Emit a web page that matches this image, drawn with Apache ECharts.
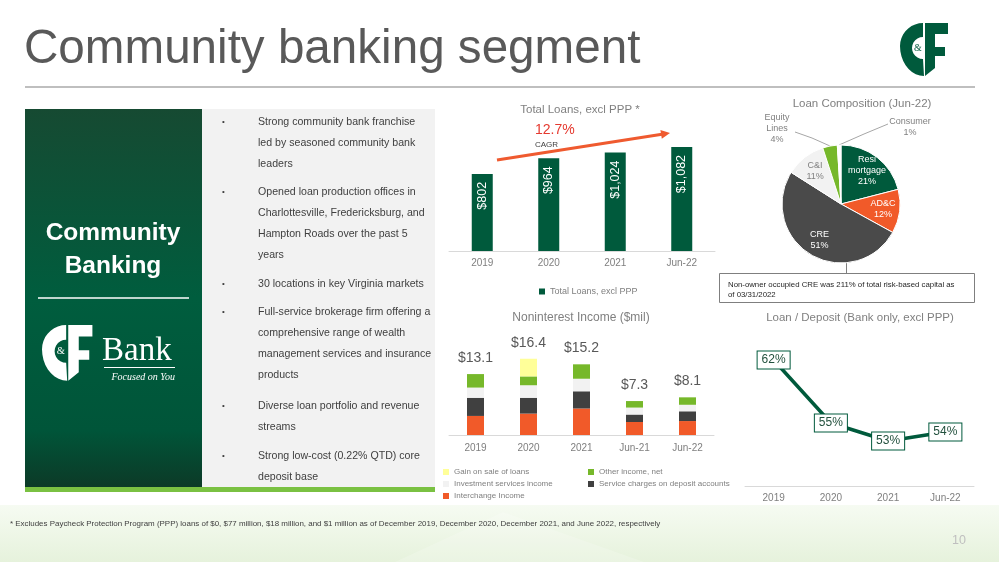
<!DOCTYPE html>
<html>
<head>
<meta charset="utf-8">
<title>Community banking segment</title>
<script src="https://cdn.jsdelivr.net/npm/echarts@6/dist/echarts.min.js"></script>
<style>
  html, body { margin: 0; padding: 0; background: #fff; }
  #main { width: 999px; height: 562px; }
</style>
</head>
<body>
<div id="main"></div>
<script>
const FONT = 'Liberation Sans'
const GREEN = '#005a3c'

// Total loans, excl PPP ($mil)
const loanPeriods = ['2019', '2020', '2021', 'Jun-22']
const totalLoans = [802, 964, 1024, 1082]

// Loan composition (Jun-22), %
const compositionNames = ['Resi\nmortgage', 'AD&C', 'CRE', 'C&I', 'Equity\nLines', 'Consumer']
const compositionShares = [21, 12, 51, 11, 4, 1]

// Noninterest income ($mil)
const incomePeriods = ['2019', '2020', '2021', 'Jun-21', 'Jun-22']
const interchangeIncome = [4.1, 4.6, 5.7, 2.8, 3.0]
const serviceCharges = [3.9, 3.4, 3.7, 1.6, 2.1]
const investmentIncome = [2.2, 2.7, 2.7, 1.5, 1.4]
const otherIncome = [2.9, 1.9, 3.1, 1.4, 1.6]
const gainOnSale = [0, 3.8, 0, 0, 0]
const incomeTotals = [13.1, 16.4, 15.2, 7.3, 8.1]

// Loan / deposit (bank only, excl PPP), %
const ratioPeriods = ['2019', '2020', '2021', 'Jun-22']
const loanToDeposit = [62, 55, 53, 54]

const bullets = [
  'Strong community bank franchise\nled by seasoned community bank\nleaders',
  'Opened loan production offices in\nCharlottesville, Fredericksburg, and\nHampton Roads over the past 5\nyears',
  '30 locations in key Virginia markets',
  'Full-service brokerage firm offering a\ncomprehensive range of wealth\nmanagement services and insurance\nproducts',
  'Diverse loan portfolio and revenue\nstreams',
  'Strong low-cost (0.22% QTD) core\ndeposit base'
]
const bulletTops = [122, 192, 284, 312, 406, 456]

const pieColors = [GREEN, '#f15a29', '#4a4a4a', '#f2f2f2', '#76b82a', '#ffffff']
const pieCenter = [841, 204]

// C&F mark, drawn in a 48 x 53 box
function logo(x, y, scale, color) {
  const c = []
  for (let a = 270; a >= 180; a -= 10) {
    const r = a * Math.PI / 180
    c.push([23 + 23 * Math.cos(r), 23 + 23 * Math.sin(r)])
  }
  for (let a = 170; a >= 90; a -= 10) {
    const r = a * Math.PI / 180
    c.push([24 + 24 * Math.cos(r), 23 + 30 * Math.sin(r)])
  }
  for (let a = 90; a <= 270; a += 15) {
    const r = a * Math.PI / 180
    c.push([23 + 11 * Math.cos(r), 25 + 11 * Math.sin(r)])
  }
  return {
    type: 'group',
    x: x,
    y: y,
    scaleX: scale,
    scaleY: scale,
    children: [
      { type: 'polygon', shape: { points: c }, style: { fill: color } },
      {
        type: 'polygon',
        shape: { points: [[25, 0], [48, 0], [48, 11], [35, 11], [35, 24], [45, 24], [45, 33], [35, 33], [35, 45], [25, 53]] },
        style: { fill: color }
      },
      {
        type: 'text',
        style: { text: '&', x: 18, y: 25, fontSize: 10, fontFamily: 'Liberation Serif', fill: color, textAlign: 'center', textVerticalAlign: 'middle' }
      }
    ]
  }
}

const decor = [
  // footer wash
  {
    type: 'rect', z: -10,
    shape: { x: 0, y: 505, width: 999, height: 57 },
    style: { fill: { type: 'linear', x: 0, y: 0, x2: 0, y2: 1, colorStops: [{ offset: 0, color: '#f6fbf2' }, { offset: 1, color: '#e6f2dc' }] } }
  },
  { type: 'polygon', z: -9, shape: { points: [[395, 562], [503, 512], [644, 562]] }, style: { fill: 'rgba(255,255,255,0.18)' } },

  // slide title
  { type: 'text', style: { text: 'Community banking segment', x: 24, y: 50, fontSize: 47.6, fontFamily: FONT, fill: '#595959', textVerticalAlign: 'middle' } },
  { type: 'line', shape: { x1: 25, y1: 87, x2: 975, y2: 87 }, style: { stroke: '#bfbfbf', lineWidth: 2 } },
  logo(900, 23, 1, GREEN),

  // left panels
  {
    type: 'rect',
    shape: { x: 25, y: 109, width: 177, height: 378 },
    style: { fill: { type: 'linear', x: 0, y: 0, x2: 0, y2: 1, colorStops: [{ offset: 0, color: '#164a32' }, { offset: 0.5, color: '#005d3e' }, { offset: 0.85, color: '#005539' }, { offset: 1, color: '#0c3a27' }] } }
  },
  { type: 'rect', shape: { x: 202, y: 109, width: 233, height: 378 }, style: { fill: '#f2f2f2' } },
  { type: 'rect', shape: { x: 25, y: 487, width: 410, height: 5 }, style: { fill: '#7ac142' } },
  {
    type: 'text',
    style: { text: 'Community\nBanking', x: 113, y: 250, fontSize: 24.5, fontWeight: 'bold', lineHeight: 33, fontFamily: FONT, fill: '#fff', textAlign: 'center', textVerticalAlign: 'middle' }
  },
  { type: 'line', shape: { x1: 38, y1: 298, x2: 189, y2: 298 }, style: { stroke: '#fff', lineWidth: 1.5 } },
  logo(42, 325, 1.05, '#fff'),
  { type: 'text', style: { text: 'Bank', x: 102, y: 351, fontSize: 33, fontFamily: 'Liberation Serif', fill: '#fff', textVerticalAlign: 'middle' } },
  { type: 'line', shape: { x1: 104, y1: 367.5, x2: 175, y2: 367.5 }, style: { stroke: '#fff', lineWidth: 1 } },
  { type: 'text', style: { text: 'Focused on You', x: 175, y: 377, fontSize: 10, fontStyle: 'italic', fontFamily: 'Liberation Serif', fill: '#fff', textAlign: 'right', textVerticalAlign: 'middle' } },

  // CAGR arrow
  { type: 'line', shape: { x1: 497, y1: 160, x2: 662, y2: 134.3 }, style: { stroke: '#ef5a2f', lineWidth: 3 } },
  { type: 'polygon', shape: { points: [[670, 133], [661.8, 138.8], [660.4, 130]] }, style: { fill: '#ef5a2f' } },
  { type: 'text', style: { text: '12.7%', x: 535, y: 130, fontSize: 14, fontFamily: FONT, fill: '#e5392f', textVerticalAlign: 'middle' } },
  { type: 'text', style: { text: 'CAGR', x: 535, y: 145, fontSize: 8, fontFamily: FONT, fill: '#404040', textVerticalAlign: 'middle' } },

  // CRE callout
  { type: 'line', shape: { x1: 846.5, y1: 262, x2: 846.5, y2: 274 }, style: { stroke: '#7f7f7f', lineWidth: 1 } },
  { type: 'rect', shape: { x: 719.5, y: 273.5, width: 255, height: 29 }, style: { fill: '#fff', stroke: '#7f7f7f', lineWidth: 1 } },
  {
    type: 'text',
    style: { text: 'Non-owner occupied CRE was 211% of total risk-based capital as\nof 03/31/2022', x: 728, y: 280, fontSize: 7.8, lineHeight: 10, fontFamily: FONT, fill: '#262626' }
  },

  // footnote and page number
  {
    type: 'text',
    style: {
      text: '* Excludes Paycheck Protection Program (PPP) loans of $0, $77 million, $18 million, and $1 million as of December 2019, December 2020, December 2021, and June 2022, respectively',
      x: 10, y: 524, fontSize: 7.95, fontFamily: FONT, fill: '#404040', textVerticalAlign: 'middle'
    }
  },
  { type: 'text', style: { text: '10', x: 966, y: 541, fontSize: 12.5, fontFamily: FONT, fill: '#bfbfbf', textAlign: 'right', textVerticalAlign: 'middle' } }
]

bullets.forEach(function (text, i) {
  decor.push({ type: 'text', style: { text: '•', x: 222, y: bulletTops[i], fontSize: 8, fontFamily: FONT, fill: '#404040', textVerticalAlign: 'middle' } })
  decor.push({ type: 'text', style: { text: text, x: 258, y: bulletTops[i] - 10.5, fontSize: 10.6, lineHeight: 21, fontFamily: FONT, fill: '#404040' } })
})

function catAxis(gridIndex, data, margin) {
  return {
    gridIndex: gridIndex,
    type: 'category',
    data: data,
    axisTick: { show: false },
    axisLine: { lineStyle: { color: '#d9d9d9', width: 1 } },
    axisLabel: { color: '#7f7f7f', fontSize: 10, fontFamily: FONT, margin: margin }
  }
}

function chartTitle(text, x, top, size) {
  return {
    text: text, left: x, top: top, textAlign: 'center', padding: 0,
    textStyle: { fontSize: size, fontWeight: 'normal', color: '#808080', fontFamily: FONT }
  }
}

function incomeSeries(name, data, color) {
  return {
    name: name, type: 'bar', stack: 'income', xAxisIndex: 1, yAxisIndex: 1,
    barWidth: 17, data: data, itemStyle: { color: color }
  }
}

const legendText = { color: '#808080', fontSize: 8, fontFamily: FONT }

const chart = echarts.init(document.getElementById('main'))
chart.setOption({
  animation: false,
  textStyle: { fontFamily: FONT },
  graphic: decor,
  title: [
    chartTitle('Total Loans, excl PPP *', 580, 104, 11.5),
    chartTitle('Loan Composition (Jun-22)', 862, 98, 11.5),
    chartTitle('Noninterest Income ($mil)', 581, 312, 12),
    chartTitle('Loan / Deposit (Bank only, excl PPP)', 860, 312, 11.5)
  ],
  legend: [
    {
      data: ['Total Loans, excl PPP'], left: 534, top: 282,
      itemWidth: 6, itemHeight: 6, icon: 'rect',
      textStyle: { color: '#808080', fontSize: 9, fontFamily: FONT }
    },
    {
      data: ['Gain on sale of loans', 'Investment services income', 'Interchange Income'],
      orient: 'vertical', left: 438, top: 463, itemGap: 4,
      itemWidth: 6, itemHeight: 6, icon: 'rect', textStyle: legendText
    },
    {
      data: ['Other income, net', 'Service charges on deposit accounts'],
      orient: 'vertical', left: 583, top: 463, itemGap: 4,
      itemWidth: 6, itemHeight: 6, icon: 'rect', textStyle: legendText
    }
  ],
  grid: [
    { left: 449, width: 266, top: 126, height: 125 },
    { left: 449, width: 265, top: 342, height: 93 },
    { left: 745, width: 229, top: 324, height: 162 }
  ],
  xAxis: [
    catAxis(0, loanPeriods, 7),
    catAxis(1, incomePeriods, 8),
    catAxis(2, ratioPeriods, 7)
  ],
  yAxis: [
    { gridIndex: 0, type: 'value', min: 0, max: 1300, show: false },
    { gridIndex: 1, type: 'value', min: 0, max: 20, show: false },
    { gridIndex: 2, type: 'value', min: 48, max: 66, show: false }
  ],
  series: [
    {
      name: 'Total Loans, excl PPP',
      type: 'bar',
      xAxisIndex: 0,
      yAxisIndex: 0,
      barWidth: 21,
      data: totalLoans,
      itemStyle: { color: GREEN },
      label: {
        show: true,
        position: 'insideTop',
        rotate: 90,
        align: 'right',
        verticalAlign: 'middle',
        distance: 8,
        color: '#fff',
        fontSize: 12.5,
        fontFamily: FONT,
        formatter: p => '$' + p.value.toLocaleString('en-US')
      }
    },
    {
      type: 'pie',
      center: pieCenter,
      radius: 59,
      startAngle: 90,
      clockwise: true,
      itemStyle: { borderColor: '#fff', borderWidth: 1 },
      label: {
        show: true,
        position: 'inside',
        formatter: '{b}\n{c}%',
        fontSize: 9,
        lineHeight: 11,
        fontFamily: FONT,
        color: '#fff'
      },
      labelLine: { show: false },
      data: compositionShares.map((v, i) => {
        const item = { value: v, name: compositionNames[i], itemStyle: { color: pieColors[i] } }
        if (i === 3) item.label = { color: '#808080' }
        if (i >= 4) {
          item.label = { position: 'outside', color: '#808080' }
          item.labelLine = { show: true, lineStyle: { color: '#a6a6a6', width: 1 } }
        }
        return item
      }),
      labelLayout: function (p) {
        if (p.dataIndex === 4) {
          return { x: 777, y: 129, align: 'center', verticalAlign: 'middle', labelLinePoints: [[830, 146], [812, 138], [795, 132]] }
        }
        if (p.dataIndex === 5) {
          return { x: 910, y: 127, align: 'center', verticalAlign: 'middle', labelLinePoints: [[839, 145], [864, 134], [888, 124]] }
        }
        // push inside labels a bit further out from the centre
        const r = p.labelRect
        const cx = r.x + r.width / 2
        const cy = r.y + r.height / 2
        return {
          x: pieCenter[0] + (cx - pieCenter[0]) * 1.3,
          y: pieCenter[1] + (cy - pieCenter[1]) * 1.3,
          align: 'center',
          verticalAlign: 'middle'
        }
      }
    },
    incomeSeries('Interchange Income', interchangeIncome, '#f15a29'),
    incomeSeries('Service charges on deposit accounts', serviceCharges, '#404040'),
    incomeSeries('Investment services income', investmentIncome, '#f2f2f2'),
    incomeSeries('Other income, net', otherIncome, '#76b82a'),
    Object.assign(incomeSeries('Gain on sale of loans', gainOnSale, '#ffff99'), {
      label: {
        show: true,
        position: 'top',
        distance: 9,
        fontSize: 14,
        color: '#595959',
        fontFamily: FONT,
        formatter: p => '$' + incomeTotals[p.dataIndex].toFixed(1)
      }
    }),
    {
      name: 'Loan / Deposit',
      type: 'line',
      xAxisIndex: 2,
      yAxisIndex: 2,
      data: loanToDeposit,
      symbol: 'circle',
      symbolSize: 3,
      lineStyle: { color: GREEN, width: 3.5 },
      itemStyle: { color: GREEN },
      label: {
        show: true,
        position: 'inside',
        formatter: '{c}%',
        color: '#22503d',
        fontSize: 12,
        fontFamily: FONT,
        backgroundColor: '#fff',
        borderColor: GREEN,
        borderWidth: 1,
        padding: [3, 4, 2, 4]
      }
    }
  ]
})
</script>
</body>
</html>
